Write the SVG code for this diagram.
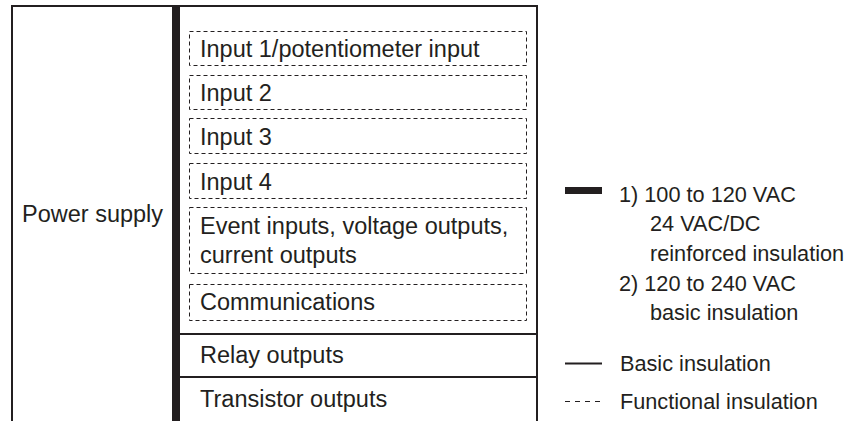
<svg xmlns="http://www.w3.org/2000/svg" width="856" height="421" viewBox="0 0 856 421">
<style>
text{font-family:"Liberation Sans",Arial,sans-serif;font-size:23.5px;fill:#231f20}
.leg{font-size:21.7px}
.frame{stroke:#231f20;stroke-width:2;fill:none}
.dash{stroke:#231f20;stroke-width:1;fill:none;stroke-dasharray:4 3}
</style>
<rect width="856" height="421" fill="#fff"/>
<g id="frame">
<path class="frame" d="M12 421V6H537V421"/>
<rect x="172" y="6" width="8" height="415" fill="#231f20"/>
<path class="frame" d="M180 334H537M180 377H537"/>
</g>
<g id="power-supply"><text x="22" y="222">Power supply</text></g>
<g id="input1"><rect class="dash" x="189.5" y="31.5" width="337" height="34"/><text x="200" y="57">Input 1/potentiometer input</text></g>
<g id="input2"><rect class="dash" x="189.5" y="75.5" width="337" height="34"/><text x="200" y="101">Input 2</text></g>
<g id="input3"><rect class="dash" x="189.5" y="118.5" width="337" height="35"/><text x="200" y="145">Input 3</text></g>
<g id="input4"><rect class="dash" x="189.5" y="163.5" width="337" height="35"/><text x="200" y="190">Input 4</text></g>
<g id="event"><rect class="dash" x="189.5" y="207.5" width="337" height="66"/><text x="200" y="234">Event inputs, voltage outputs,</text><text x="200" y="263">current outputs</text></g>
<g id="comm"><rect class="dash" x="189.5" y="284.5" width="337" height="36"/><text x="200" y="310">Communications</text></g>
<g id="relay"><text x="200" y="363">Relay outputs</text></g>
<g id="transistor"><text x="200" y="407">Transistor outputs</text></g>
<g id="legend">
<rect x="565" y="187" width="37" height="7" fill="#231f20"/>
<text class="leg" x="619" y="202">1) 100 to 120 VAC</text>
<text class="leg" x="650" y="231">24 VAC/DC</text>
<text class="leg" x="650" y="261">reinforced insulation</text>
<text class="leg" x="619" y="291">2) 120 to 240 VAC</text>
<text class="leg" x="650" y="320">basic insulation</text>
<path class="frame" d="M565 363.5H602"/>
<text class="leg" x="620" y="371">Basic insulation</text>
<path d="M565 401.5H602" stroke="#231f20" stroke-width="1" stroke-dasharray="5 5"/>
<text class="leg" x="620" y="409">Functional insulation</text>
</g>
</svg>
